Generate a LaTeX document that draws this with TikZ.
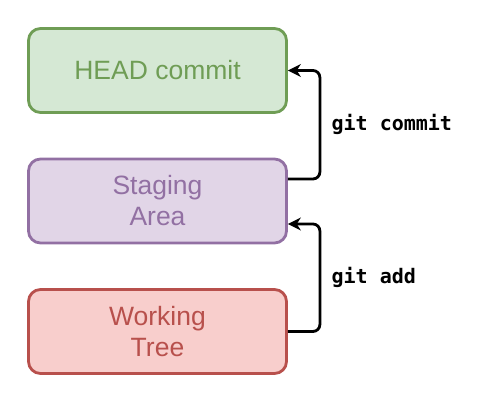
\documentclass[tikz,border=0pt]{standalone}
\usepackage{fontspec}
\usepackage{tikz}
\usetikzlibrary{arrows.meta}
\newfontfamily\boxfont{Liberation Sans}
\newfontfamily\cmdfont{DejaVu Sans Mono}
\definecolor{headfill}{HTML}{D5E8D4}
\definecolor{headline}{HTML}{6F9D55}
\definecolor{stagefill}{HTML}{E1D5E7}
\definecolor{stageline}{HTML}{9270A3}
\definecolor{workfill}{HTML}{F8CECC}
\definecolor{workline}{HTML}{B8504C}
\tikzset{%
    area/.style={%
        draw=#1line, fill=#1fill, text=#1line,
        rounded corners=12pt, line width=2.8pt,
        minimum width=258pt, minimum height=84pt,
        align=center, font=\boxfont\fontsize{26.5}{31}\selectfont}
}

\begin{document}
\begin{tikzpicture}[node distance=130.5pt,
  flow/.style={line width=2.8pt,rounded corners=7pt,-{Stealth[length=13pt,width=13pt]}},
  cmd/.style={right,xshift=7pt,font=\cmdfont\bfseries\fontsize{20}{24}\selectfont}]
  \useasboundingbox (0,0) rectangle (480pt,404pt);

  \node[area=head] (head) at (157.5pt,333.5pt) {HEAD commit};
  \node[area=stage] (stage) [below of=head] {Staging\\Area};
  \node[area=work] (work) [below of=stage] {Working\\Tree};

  \draw[flow] ([yshift=22pt]stage.east) -- ++(32pt,0)
    |- node[cmd,pos=0.25] {git commit} (head.east);
  \draw[flow] (work.east) -- ++(32pt,0)
    |- node[cmd,pos=0.25] {git add} ([yshift=-23pt]stage.east);
\end{tikzpicture}
\end{document}
